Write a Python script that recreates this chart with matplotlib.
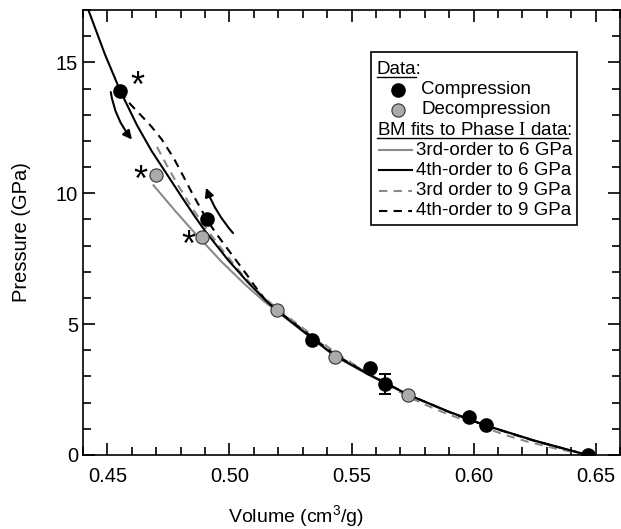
import numpy as np
import matplotlib.pyplot as plt
from matplotlib.patches import Rectangle, FancyArrowPatch
from matplotlib.lines import Line2D
from matplotlib.ticker import MultipleLocator, FormatStrFormatter

plt.rcParams['font.family'] = ['Liberation Sans', 'DejaVu Sans']
plt.rcParams['mathtext.fontset'] = 'custom'
plt.rcParams['mathtext.rm'] = 'Liberation Sans'
plt.rcParams['mathtext.it'] = 'Liberation Sans:italic'
plt.rcParams['mathtext.bf'] = 'Liberation Sans:bold'
plt.rcParams['mathtext.tt'] = 'Liberation Serif'

# measured points
comp_v = [0.4553, 0.4907, 0.5340, 0.5576, 0.5639, 0.5982, 0.6050, 0.6467]
comp_p = [13.90, 9.00, 4.41, 3.33, 2.70, 1.44, 1.13, 0.00]
comp_err = [0, 0, 0, 0, 0.38, 0, 0, 0]

decomp_v = [0.4699, 0.4886, 0.5193, 0.5431, 0.5733]
decomp_p = [10.71, 8.33, 5.53, 3.75, 2.29]

# BM fit curves
fit3_6_v = [0.4689, 0.4778, 0.4859, 0.4968, 0.5063, 0.5138, 0.5193, 0.5340, 0.5431,
            0.5570, 0.5733, 0.5900, 0.6050, 0.6250, 0.6467]
fit3_6_p = [10.30, 9.32, 8.47, 7.38, 6.52, 5.90, 5.50, 4.43, 3.78,
            3.06, 2.29, 1.64, 1.12, 0.54, 0.00]

fit4_6_v = [0.4422, 0.4490, 0.4553, 0.4621, 0.4682, 0.4744, 0.4805, 0.4859, 0.4900,
            0.4995, 0.5077, 0.5152, 0.5193, 0.5340, 0.5431, 0.5570, 0.5733, 0.5900,
            0.6050, 0.6250, 0.6467]
fit4_6_p = [17.00, 15.30, 13.90, 12.60, 11.60, 10.72, 9.85, 9.10, 8.56,
            7.44, 6.58, 5.87, 5.53, 4.45, 3.80, 3.08, 2.30, 1.65,
            1.13, 0.55, 0.00]

fit3_9_v = [0.4703, 0.4743, 0.4791, 0.4846, 0.4907, 0.4982, 0.5050, 0.5130, 0.5200,
            0.5329, 0.5431, 0.5570, 0.5733, 0.5805, 0.5886, 0.6000, 0.6131, 0.6213,
            0.6340, 0.6467]
fit3_9_p = [11.77, 11.07, 10.28, 9.45, 8.62, 7.70, 6.92, 6.12, 5.55,
            4.65, 3.93, 3.10, 2.22, 1.91, 1.59, 1.20, 0.76, 0.53,
            0.24, 0.00]

fit4_9_v = [0.4553, 0.4594, 0.4640, 0.4680, 0.4723, 0.4771, 0.4811, 0.4846, 0.4880,
            0.4907, 0.4941, 0.4982, 0.5022, 0.5070, 0.5104, 0.5145, 0.5193, 0.5340,
            0.5431, 0.5570, 0.5733, 0.5900, 0.6050, 0.6250, 0.6467]
fit4_9_p = [13.90, 13.40, 12.95, 12.55, 12.05, 11.35, 10.65, 10.02, 9.45,
            9.00, 8.52, 8.00, 7.50, 6.90, 6.45, 5.95, 5.55, 4.50,
            3.84, 3.10, 2.30, 1.64, 1.12, 0.54, 0.00]

# annotations
star_v = [0.4623, 0.4635, 0.4833]
star_p = [14.05, 10.45, 7.95]
arrow_down = [(0.4512, 13.97), (0.4608, 11.97)]
arrow_up = [(0.5022, 8.40), (0.4900, 10.31)]

gray_line = '#8a8a8a'
gray_fill = '#ababab'

fig = plt.figure(figsize=(6.21, 5.29), dpi=100)
ax = fig.add_axes([0.1337, 0.1399, 0.8647, 0.8412])

ax.plot(fit3_6_v, fit3_6_p, color=gray_line, lw=1.5)
ax.plot(fit3_9_v, fit3_9_p, color=gray_line, lw=1.5, ls=(0, (4, 3)))
ax.plot(fit4_9_v, fit4_9_p, color='black', lw=1.5, ls=(0, (4, 3)))
ax.plot(fit4_6_v, fit4_6_p, color='black', lw=1.5)

ax.errorbar(comp_v, comp_p, yerr=comp_err, fmt='none', ecolor='black', elinewidth=1.4, capsize=4, capthick=1.4, zorder=3)
ax.plot(comp_v, comp_p, 'o', color='black', ms=9.5, zorder=4)
ax.plot(decomp_v, decomp_p, 'o', mfc=gray_fill, mec='#333333', mew=0.8, ms=9.5, zorder=4)

for v, p in zip(star_v, star_p):
    ax.text(v, p, '*', fontsize=26, ha='center', va='center')

a1 = FancyArrowPatch(arrow_down[0], arrow_down[1], connectionstyle='arc3,rad=0.15',
                     arrowstyle='-|>', mutation_scale=13, lw=1.5, color='black')
a2 = FancyArrowPatch(arrow_up[0], arrow_up[1], connectionstyle='arc3,rad=-0.1',
                     arrowstyle='-|>', mutation_scale=13, lw=1.5, color='black')
ax.add_patch(a1)
ax.add_patch(a2)

ax.set_xlim(0.44, 0.66)
ax.set_ylim(0, 17)
ax.xaxis.set_major_locator(MultipleLocator(0.05))
ax.xaxis.set_minor_locator(MultipleLocator(0.01))
ax.xaxis.set_major_formatter(FormatStrFormatter('%.2f'))
ax.yaxis.set_major_locator(MultipleLocator(5))
ax.yaxis.set_minor_locator(MultipleLocator(1))
ax.tick_params(which='both', direction='in', top=True, right=True, width=1.2, labelsize=14.5)
ax.tick_params(which='major', length=8.6)
ax.tick_params(which='minor', length=6)
ax.tick_params(axis='x', which='major', pad=9)
for s in ax.spines.values():
    s.set_linewidth(1.2)

ax.set_xlabel('Volume (cm$^3$/g)', fontsize=14)
ax.set_ylabel('Pressure (GPa)', fontsize=14.5)
ax.xaxis.set_label_coords((296 - 83) / 537.0, (455 - 503) / 445.0)
ax.yaxis.set_label_coords((31 - 83) / 537.0, 0.5)

# legend drawn by hand
def fx(px):
    return (px - 83) / 537.0

def fy(py):
    return (455 - py) / 445.0

ax.add_patch(Rectangle((fx(371), fy(225)), fx(576.7) - fx(371), fy(52.3) - fy(225),
                       transform=ax.transAxes, facecolor='white', edgecolor='black', lw=1.2, zorder=10))
rows = [69.5 + 20.2 * i for i in range(8)]
fs = 13.5
ax.text(fx(376.7), fy(rows[0]), 'Data:', transform=ax.transAxes, fontsize=fs, va='center', zorder=11)
ax.plot([fx(398.3)], [fy(rows[1])], 'o', color='black', ms=9.5, transform=ax.transAxes, zorder=11, clip_on=False)
ax.text(fx(421), fy(rows[1]), 'Compression', transform=ax.transAxes, fontsize=fs, va='center', zorder=11)
ax.plot([fx(398.3)], [fy(rows[2])], 'o', mfc=gray_fill, mec='#333333', mew=0.8, ms=9.5,
        transform=ax.transAxes, zorder=11, clip_on=False)
ax.text(fx(421), fy(rows[2]), 'Decompression', transform=ax.transAxes, fontsize=fs, va='center', zorder=11)
header2 = 'BM fits to Phase $\\mathtt{I}$ data'
ax.text(fx(376.7), fy(rows[3]), header2 + ':', transform=ax.transAxes, fontsize=fs, va='center', zorder=11)

fit_labels = ['3rd-order to 6 GPa', '4th-order to 6 GPa', '3rd order to 9 GPa', '4th-order to 9 GPa']
fit_colors = [gray_line, 'black', gray_line, 'black']
fit_styles = ['-', '-', (0, (4, 3)), (0, (4, 3))]
for i in range(4):
    r = rows[4 + i]
    ax.plot([fx(379), fx(412)], [fy(r), fy(r)], color=fit_colors[i], ls=fit_styles[i], lw=1.5,
            transform=ax.transAxes, zorder=11, clip_on=False)
    ax.text(fx(415.7), fy(r), fit_labels[i], transform=ax.transAxes, fontsize=fs, va='center', zorder=11)

# underline the headers (without the colon)
fig.canvas.draw()
rend = fig.canvas.get_renderer()
inv = fig.transFigure.inverted()
for row, word in [(rows[0], 'Data'), (rows[3], header2)]:
    tmp = ax.text(fx(376.7), fy(row), word, transform=ax.transAxes, fontsize=fs, va='center')
    bb = tmp.get_window_extent(rend)
    tmp.remove()
    (x0, y0), (x1, _) = inv.transform([(bb.x0, bb.y0 + 1), (bb.x1, bb.y0 + 1)])
    fig.add_artist(Line2D([x0, x1], [y0, y0], color='black', lw=1.0, transform=fig.transFigure, zorder=12))

fig.savefig('out.png', dpi=100)
